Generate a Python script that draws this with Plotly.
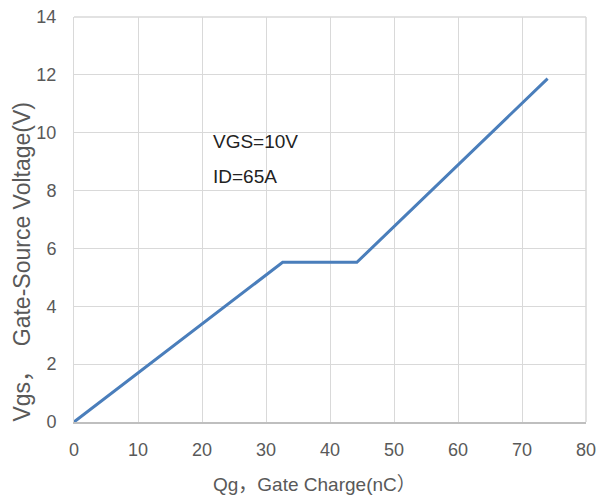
import plotly.graph_objects as go

# Data
qg = [0, 32.6, 44.2, 74.0]          # Gate charge (nC)
vgs = [0, 5.52, 5.52, 11.87]        # Gate-source voltage (V)
x_ticks = [0, 10, 20, 30, 40, 50, 60, 70, 80]
y_ticks = [0, 2, 4, 6, 8, 10, 12, 14]
note_lines = ["VGS=10V", "ID=65A"]

FONT = "Liberation Sans, Arial, Noto Sans CJK SC, sans-serif"
GRAY = "#595959"
GRID = "#d9d9d9"

fig = go.Figure()
fig.add_trace(go.Scatter(x=qg, y=vgs, mode="lines",
                         line=dict(color="#4a7ebb", width=3),
                         showlegend=False, hoverinfo="skip"))

# plot area in pixels: x 73.5..586, y 17.3..421.7
L, R, T, B = 73.5, 586.0, 17.3, 421.7
W, H = 597, 500
pw, ph = R - L, B - T

def px(x):
    return (x - L) / pw

def py(y):
    return (B - y) / ph

fig.update_layout(
    width=W, height=H,
    margin=dict(l=L, r=W - R, t=T, b=H - B, pad=0, autoexpand=False),
    paper_bgcolor="white", plot_bgcolor="white",
    font=dict(family=FONT, color=GRAY, size=18),
    xaxis=dict(range=[0, 80.0001], tickvals=x_ticks, showgrid=True, gridcolor=GRID,
               gridwidth=1, zeroline=False, showline=True, linecolor="#bfbfbf",
               linewidth=1.5, ticks="", ticklabelstandoff=11, fixedrange=True,
               automargin=False),
    yaxis=dict(range=[0, 14.0001], tickvals=y_ticks, showgrid=True, gridcolor=GRID,
               gridwidth=1, zeroline=False, showline=True, linecolor=GRID,
               linewidth=1, ticks="", ticklabelstandoff=13, fixedrange=True,
               automargin=False),
    shapes=[
        # right & top borders
        dict(type="line", xref="paper", yref="paper", x0=1, x1=1, y0=0, y1=1,
             line=dict(color=GRID, width=1.5)),
        dict(type="line", xref="paper", yref="paper", x0=0, x1=1, y0=1, y1=1,
             line=dict(color=GRID, width=1.5)),
        # white box behind the note
        dict(type="rect", xref="paper", yref="paper", layer="below",
             x0=px(198), x1=px(297), y0=py(202), y1=py(117),
             fillcolor="white", line=dict(width=0)),
    ],
    annotations=[
        dict(text=note_lines[0], xref="paper", yref="paper", x=px(211), y=py(142),
             xanchor="left", yanchor="middle", showarrow=False,
             font=dict(size=19, color="#222222", family=FONT)),
        dict(text=note_lines[1], xref="paper", yref="paper", x=px(211), y=py(177),
             xanchor="left", yanchor="middle", showarrow=False,
             font=dict(size=19, color="#222222", family=FONT)),
        dict(text="Qg，Gate Charge(nC）", xref="paper", yref="paper",
             x=px(314), y=py(484), xanchor="center", yanchor="middle",
             showarrow=False, font=dict(size=19, color=GRAY, family=FONT)),
        dict(text="Vgs，  Gate-Source Voltage(V)", xref="paper", yref="paper",
             x=px(22), y=py(262), xanchor="center", yanchor="middle",
             textangle=-90, showarrow=False,
             font=dict(size=23, color=GRAY, family=FONT)),
    ],
)

fig.write_html("out.html")
